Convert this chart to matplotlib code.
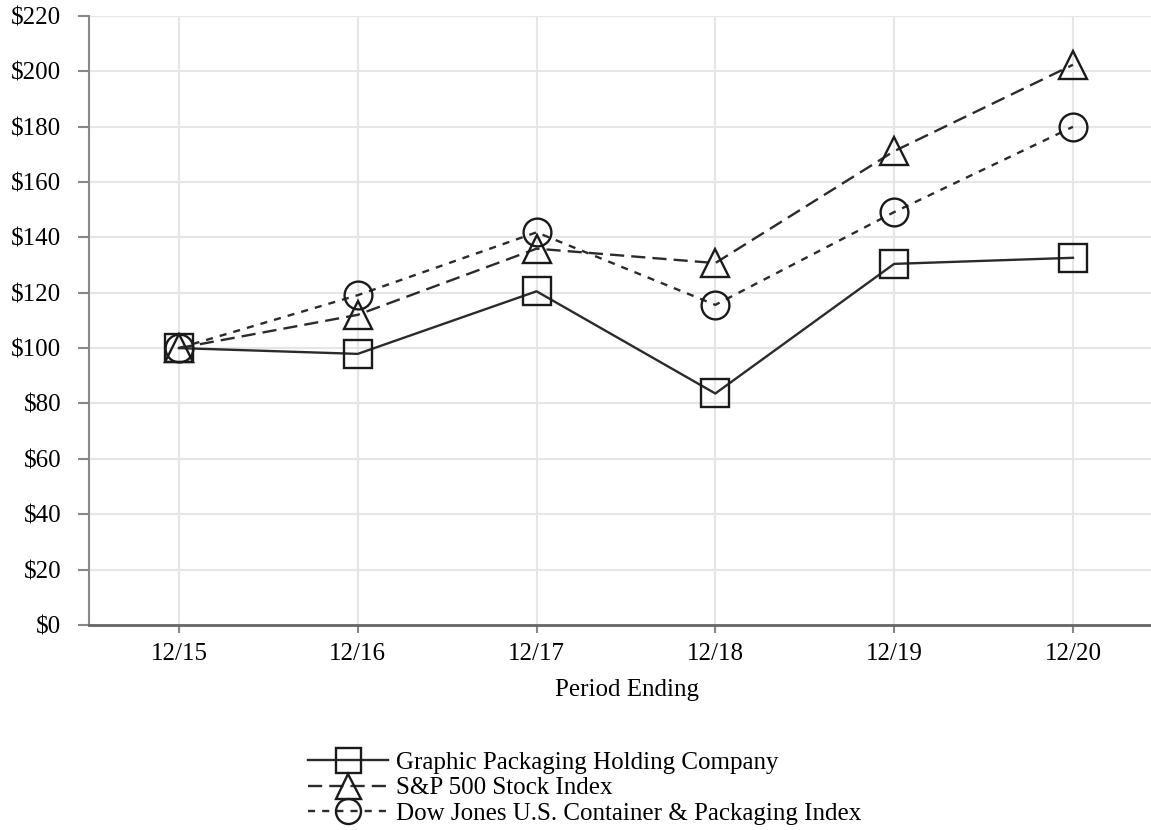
import matplotlib.pyplot as plt

plt.rcParams['font.family'] = ['Liberation Serif', 'DejaVu Serif']

periods = ["12/15", "12/16", "12/17", "12/18", "12/19", "12/20"]
gpk = [100, 97.9, 120.5, 83.6, 130.4, 132.6]
sp500 = [100, 112.0, 135.9, 130.7, 171.1, 202.3]
dj_pack = [100, 119.1, 141.8, 115.6, 149.1, 179.9]

series = [
    ("Graphic Packaging Holding Company", gpk, "-", "s"),
    ("S&P 500 Stock Index", sp500, (0, (6, 3)), "^"),
    ("Dow Jones U.S. Container & Packaging Index", dj_pack, (0, (3, 3)), "o"),
]

fig = plt.figure(figsize=(11.51, 8.30), dpi=100)
# axes run off the right edge of the figure, as in the original
ax = fig.add_axes([89 / 1151, 0.247, (1165 - 89) / 1151, 0.734])

x = list(range(len(periods)))
for label, vals, ls, mk in series:
    ax.plot(x, vals, linestyle=ls, color="#2b2b2b", linewidth=1.7,
            marker=mk, markersize=20, markerfacecolor="none",
            markeredgecolor="#1a1a1a", markeredgewidth=1.7, label=label)

ax.set_xlim(-0.503, 5.515)
ax.set_ylim(0, 220)
ax.set_yticks(range(0, 221, 20))
ax.set_yticklabels([f"${v}" for v in range(0, 221, 20)])
ax.set_xticks(x)
ax.set_xticklabels(periods)
ax.grid(True, color="#e6e6e6", linewidth=1.5)
ax.set_axisbelow(True)

for s in ["top", "right"]:
    ax.spines[s].set_visible(False)
ax.spines["left"].set_color("#888888")
ax.spines["left"].set_linewidth(1.5)
ax.spines["bottom"].set_color("#666666")
ax.spines["bottom"].set_linewidth(2)
ax.tick_params(axis="both", colors="#888888", labelcolor="black",
               labelsize=18, width=1.5)
ax.tick_params(axis="y", length=8, pad=12)
ax.tick_params(axis="x", length=6, pad=7)

ax.set_xlabel("Period Ending", fontsize=18, labelpad=10)

fig.legend(loc="upper left", bbox_to_anchor=(308 / 1151, 1 - 751 / 830),
           frameon=False, fontsize=18, markerscale=0.9,
           handlelength=3.2, handletextpad=0.3, labelspacing=0.13,
           borderaxespad=0, borderpad=0)

fig.savefig("out.png", dpi=100)
